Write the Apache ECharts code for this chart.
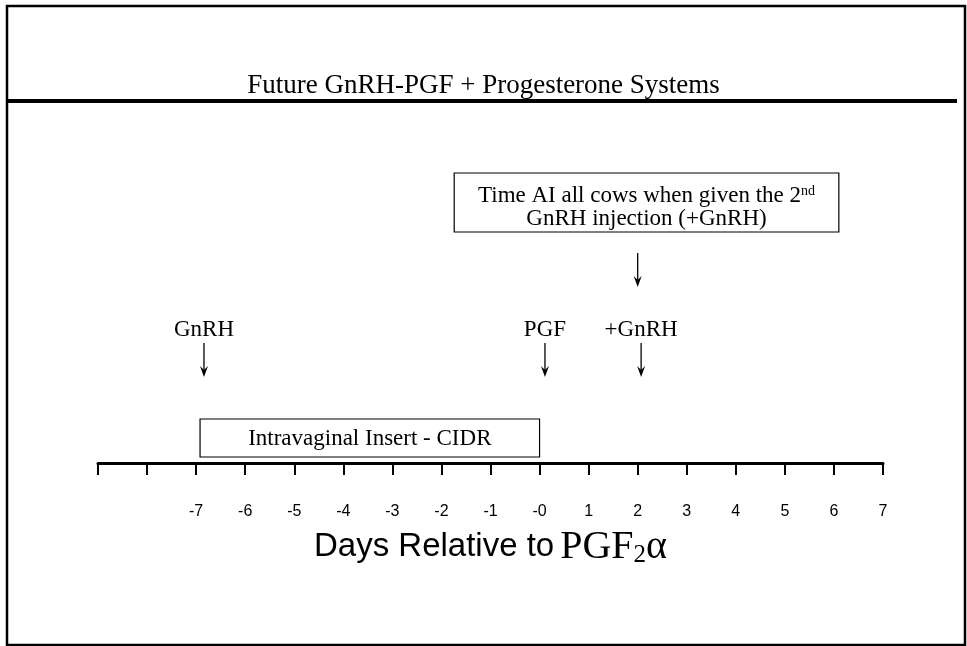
<!DOCTYPE html>
<html>
<head>
<meta charset="utf-8">
<script src="https://cdn.jsdelivr.net/npm/echarts@6/dist/echarts.min.js"></script>
<style>
html,body{margin:0;padding:0;background:#fff;}
#chart{width:967px;height:646px;}
</style>
</head>
<body>
<div id="chart"></div>
<script>
// ---- data ----
const titleText = 'Future GnRH-PGF + Progesterone Systems';
const axisMin = -9;
const axisMax = 7;
const dayLabels = ['', '', '-7', '-6', '-5', '-4', '-3', '-2', '-1', '-0', '1', '2', '3', '4', '5', '6', '7'];
const eventNames = ['GnRH', 'PGF', '+GnRH'];
const eventDays = [-6.84, 0.11, 2.07];
const insertLabel = 'Intravaginal Insert - CIDR';
const insertStart = -6.92;
const insertEnd = 0.0;
const noteLine1 = 'Time AI all cows when given the 2';
const noteSup = 'nd';
const noteLine2 = 'GnRH injection (+GnRH)';
const noteStart = -1.74;
const noteEnd = 6.1;
const noteArrowDay = 2.0;

const SERIF = "'Liberation Serif','Times New Roman',serif";
const SANS = "'Liberation Sans',Arial,sans-serif";

function arrow(x, y1, y2) {
  return [
    {type: 'line', shape: {x1: x, y1: y1, x2: x, y2: y2 - 4}, style: {stroke: '#000', lineWidth: 1.3}},
    {type: 'polygon', shape: {points: [[x - 4, y2 - 11], [x, y2 - 7], [x + 4, y2 - 11], [x, y2]]}, style: {fill: '#000'}}
  ];
}

const chart = echarts.init(document.getElementById('chart'), null, {renderer: 'canvas'});
chart.setOption({
  backgroundColor: '#fff',
  animation: false,
  title: {
    text: titleText,
    left: 'center',
    top: 67,
    textStyle: {fontFamily: SERIF, fontSize: 27, fontWeight: 'normal', color: '#000'}
  },
  graphic: [
    {type: 'rect', shape: {x: 7, y: 6, width: 958, height: 639}, style: {fill: null, stroke: '#000', lineWidth: 2.5}, silent: true},
    {type: 'line', shape: {x1: 7, y1: 101, x2: 957, y2: 101}, style: {stroke: '#000', lineWidth: 4}, silent: true}
  ],
  grid: {left: 98, right: 84, top: 110, bottom: 183},
  xAxis: {
    type: 'value',
    min: axisMin,
    max: axisMax,
    interval: 1,
    splitLine: {show: false},
    axisLine: {show: true, onZero: false, lineStyle: {color: '#000', width: 3}},
    axisTick: {show: true, inside: false, length: 12, lineStyle: {color: '#000', width: 2}},
    axisLabel: {
      margin: 41,
      fontFamily: SANS,
      fontSize: 16,
      color: '#000',
      formatter: function (v) { return dayLabels[Math.round(v - axisMin)]; }
    },
    name: '{s|Days Relative to}{r|PGF}{sub|2}{r|α}',
    nameLocation: 'middle',
    nameGap: 63,
    nameTextStyle: {
      rich: {
        s: {fontFamily: SANS, fontSize: 33, lineHeight: 42, color: '#000', padding: [0, 6, 0, 0]},
        r: {fontFamily: SERIF, fontSize: 40, lineHeight: 42, color: '#000'},
        sub: {fontFamily: SERIF, fontSize: 25, lineHeight: 42, color: '#000', verticalAlign: 'bottom'}
      }
    }
  },
  yAxis: {type: 'value', min: 0, max: 100, show: false},
  series: [
    {
      type: 'custom',
      name: 'events',
      clip: false,
      data: eventDays.map(function (d, i) { return [d, 0, i]; }),
      renderItem: function (params, api) {
        const p = api.coord([api.value(0), 0]);
        const i = api.value(2);
        return {
          type: 'group',
          children: [
            {type: 'text', style: {text: eventNames[i], x: p[0], y: p[1] - 133, align: 'center', verticalAlign: 'middle', font: '23px ' + SERIF, fill: '#000'}}
          ].concat(arrow(p[0], p[1] - 120, p[1] - 86))
        };
      }
    },
    {
      type: 'custom',
      name: 'insert',
      clip: false,
      data: [[insertStart, insertEnd]],
      renderItem: function (params, api) {
        const a = api.coord([api.value(0), 0]);
        const b = api.coord([api.value(1), 0]);
        return {
          type: 'group',
          children: [
            {type: 'rect', shape: {x: a[0], y: a[1] - 44, width: b[0] - a[0], height: 38}, style: {fill: '#fff', stroke: '#000', lineWidth: 1.2}},
            {type: 'text', style: {text: insertLabel, x: (a[0] + b[0]) / 2, y: a[1] - 24, align: 'center', verticalAlign: 'middle', font: '23px ' + SERIF, fill: '#000'}}
          ]
        };
      }
    },
    {
      type: 'custom',
      name: 'note',
      clip: false,
      data: [[noteStart, noteEnd, noteArrowDay]],
      renderItem: function (params, api) {
        const a = api.coord([api.value(0), 0]);
        const b = api.coord([api.value(1), 0]);
        const c = api.coord([api.value(2), 0]);
        return {
          type: 'group',
          children: [
            {type: 'rect', shape: {x: a[0], y: a[1] - 290, width: b[0] - a[0], height: 59}, style: {fill: '#fff', stroke: '#000', lineWidth: 1.2}},
            {type: 'text', style: {
              text: '{m|' + noteLine1 + '}{sup|' + noteSup + '}\n{m|' + noteLine2 + '}',
              x: (a[0] + b[0]) / 2, y: a[1] - 256, align: 'center', verticalAlign: 'middle',
              rich: {
                m: {fontFamily: SERIF, fontSize: 23, lineHeight: 23, color: '#000'},
                sup: {fontFamily: SERIF, fontSize: 14, lineHeight: 23, color: '#000', verticalAlign: 'top'}
              }
            }}
          ].concat(arrow(c[0], a[1] - 210, a[1] - 176))
        };
      }
    }
  ]
});
</script>
</body>
</html>
